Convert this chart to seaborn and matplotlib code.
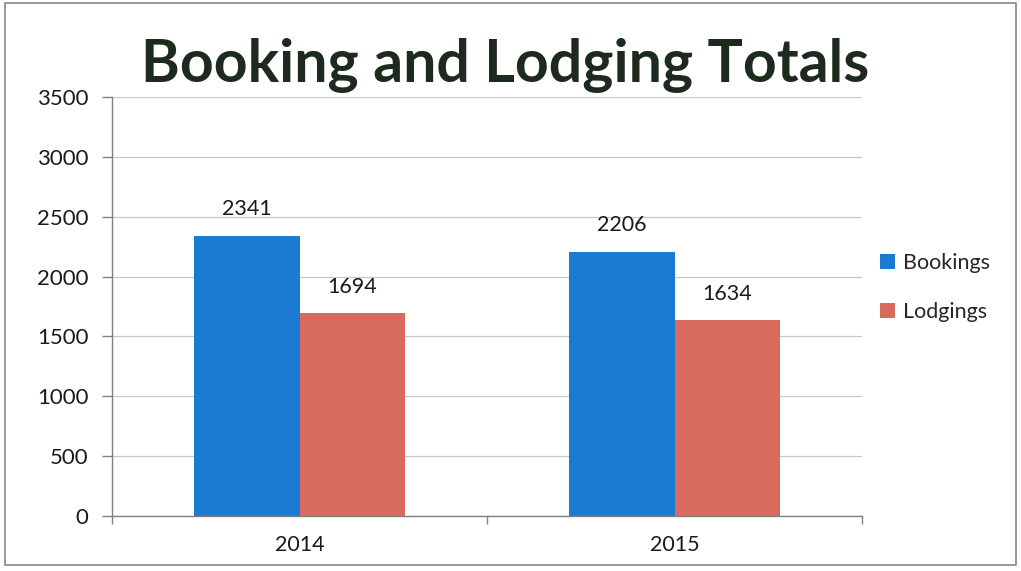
import pandas as pd
import seaborn as sns
import matplotlib.pyplot as plt
from matplotlib.patches import Rectangle

# data
years = ["2014", "2015"]
bookings = [2341, 2206]
lodgings = [1694, 1634]
series_names = ["Bookings", "Lodgings"]
colors = ["#1b7bd3", "#d96a5e"]

df = pd.DataFrame({
    "year": years * 2,
    "value": bookings + lodgings,
    "series": [series_names[0]] * len(years) + [series_names[1]] * len(years),
})

sns.set_style("white")
plt.rcParams["font.family"] = ["Lato", "DejaVu Sans"]

fig = plt.figure(figsize=(10.21, 5.71), dpi=100)
ax = fig.add_axes([0.1097, 0.0963, 0.7346, 0.7337])

sns.barplot(data=df, x="year", y="value", hue="series", palette=colors,
            width=0.565, saturation=1, linewidth=0, ax=ax, legend=True)

for cont in ax.containers:
    ax.bar_label(cont, padding=12, fontsize=15.5, color="#1a1a1a")

ax.set_xlim(-0.5, 1.5)
ax.set_ylim(0, 3500)
ax.set_yticks(range(0, 3501, 500))
ax.yaxis.grid(True, color="#c8c8c8", lw=0.9)
ax.set_axisbelow(True)
ax.set_xlabel("")
ax.set_ylabel("")

for s in ["top", "right"]:
    ax.spines[s].set_visible(False)
for s in ["left", "bottom"]:
    ax.spines[s].set_color("#808080")
    ax.spines[s].set_linewidth(1)

ax.tick_params(axis="y", direction="out", length=7, width=1, color="#808080",
               labelsize=16, labelcolor="#1a1a1a", pad=10, left=True)
ax.tick_params(axis="x", which="major", length=0, labelsize=15.5,
               labelcolor="#1a1a1a", pad=14)
ax.set_xticks([-0.5, 0.5, 1.5], minor=True)
ax.tick_params(axis="x", which="minor", direction="out", length=6, width=1,
               color="#808080", bottom=True)

ax.legend(loc="center left", bbox_to_anchor=(1.012, 0.545), frameon=False,
          fontsize=15.5, handlelength=0.7, handleheight=0.7, handletextpad=0.4,
          labelspacing=1.35, borderaxespad=0)

fig.text(0.495, 0.885, "Booking and Lodging Totals", ha="center", va="center",
         fontsize=42.5, fontweight="bold", color="#1c2b1e")

fig.patches.append(Rectangle((0.005, 0.01), 0.99, 0.985, transform=fig.transFigure,
                             fill=False, edgecolor="#888888", lw=1.2))

fig.savefig("out.png", dpi=100)
